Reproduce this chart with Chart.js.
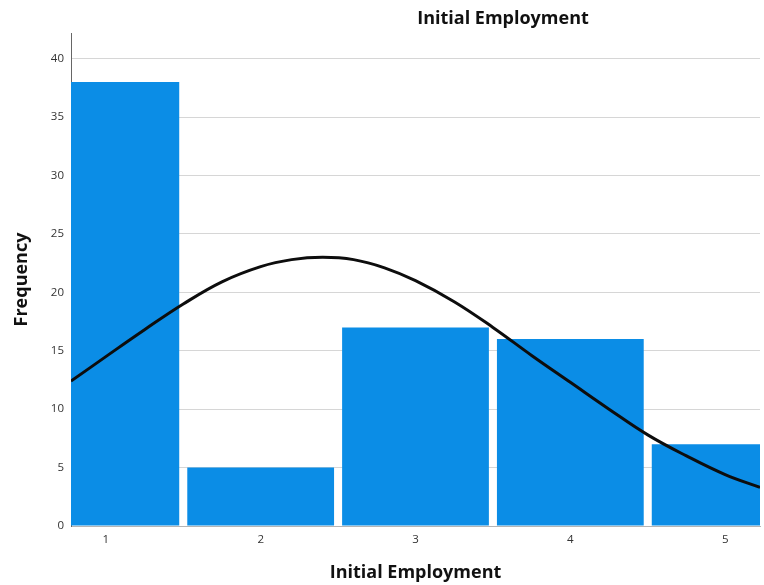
<!DOCTYPE html>
<html>
<head>
<meta charset="utf-8">
<title>Initial Employment</title>
<script src="https://cdn.jsdelivr.net/npm/chart.js@4/dist/chart.umd.min.js"></script>
<style>
  html, body { margin: 0; padding: 0; background: #ffffff; }
  #wrap { width: 764px; height: 585px; }
</style>
</head>
<body>
<div id="wrap"><canvas id="hist" width="764" height="585"></canvas></div>
<script>
// Histogram of Initial Employment with a fitted normal curve
const categories = [1, 2, 3, 4, 5];
const frequencies = [38, 5, 17, 16, 7];

// Normal curve, sampled along the x range
const curveX = [0.775, 1.0, 1.25, 1.5, 1.75, 2.0, 2.2, 2.4, 2.6, 2.8, 3.0, 3.25, 3.5, 3.75, 4.0, 4.25, 4.5, 4.75, 5.0, 5.225];
const curveY = [12.4, 14.5, 16.8, 19.0, 20.9, 22.2, 22.8, 23.0, 22.8, 22.1, 21.0, 19.2, 17.0, 14.6, 12.3, 10.0, 7.8, 6.0, 4.4, 3.3];

const yTicks = [0, 5, 10, 15, 20, 25, 30, 35, 40];
const xTicks = [1, 2, 3, 4, 5];

const chartTitle = 'Initial Employment';
const xTitle = 'Initial Employment';
const yTitle = 'Frequency';

const FONT = '"Open Sans", "Liberation Sans", sans-serif';
const BAR_COLOR = '#0b8de6';

const titlePlugin = {
  id: 'topTitle',
  afterDraw(chart) {
    const ctx = chart.ctx;
    ctx.save();
    ctx.font = 'bold 18px ' + FONT;
    ctx.fillStyle = '#111';
    ctx.textAlign = 'center';
    ctx.textBaseline = 'middle';
    ctx.fillText(chartTitle, 503, 19);
    ctx.restore();
  }
};

new Chart(document.getElementById('hist'), {
  data: {
    datasets: [
      {
        type: 'line',
        data: curveX.map((x, i) => ({ x: x, y: curveY[i] })),
        borderColor: '#0d0d0d',
        borderWidth: 3,
        pointRadius: 0,
        tension: 0.4,
        fill: false,
        order: 0
      },
      {
        type: 'bar',
        data: categories.map((c, i) => ({ x: c, y: frequencies[i] })),
        backgroundColor: BAR_COLOR,
        borderWidth: 0,
        barPercentage: 0.948,
        categoryPercentage: 1.0,
        order: 1
      }
    ]
  },
  options: {
    responsive: false,
    animation: false,
    layout: { padding: { top: 33, right: 4, left: 0, bottom: 0 } },
    plugins: {
      legend: { display: false },
      tooltip: { enabled: false },
      title: { display: false }
    },
    scales: {
      x: {
        type: 'linear',
        min: 0.775,
        max: 5.225,
        offset: false,
        afterBuildTicks: s => { s.ticks = xTicks.map(v => ({ value: v })); },
        afterFit: s => { s.height = 59; },
        grid: { display: false, drawTicks: false },
        border: { display: true, color: '#b5b5b5', width: 1 },
        ticks: {
          padding: 7,
          color: '#333',
          font: { family: FONT, size: 11.5 },
          callback: v => String(v)
        },
        title: {
          display: true,
          text: xTitle,
          color: '#111',
          font: { family: FONT, size: 18, weight: 'bold' },
          padding: { top: 0, bottom: 1 }
        }
      },
      y: {
        type: 'linear',
        min: 0,
        max: 42.2,
        afterBuildTicks: s => { s.ticks = yTicks.map(v => ({ value: v })); },
        afterFit: s => { s.width = 71; },
        grid: { color: '#d6d6d6', lineWidth: 1, drawTicks: false },
        border: { display: true, color: '#666', width: 1 },
        ticks: {
          padding: 7,
          color: '#333',
          font: { family: FONT, size: 11.5 },
          callback: v => String(v)
        },
        title: {
          display: true,
          text: yTitle,
          color: '#111',
          font: { family: FONT, size: 18, weight: 'bold' },
          padding: { top: 11, bottom: 0 }
        }
      }
    }
  },
  plugins: [titlePlugin]
});
</script>
</body>
</html>
